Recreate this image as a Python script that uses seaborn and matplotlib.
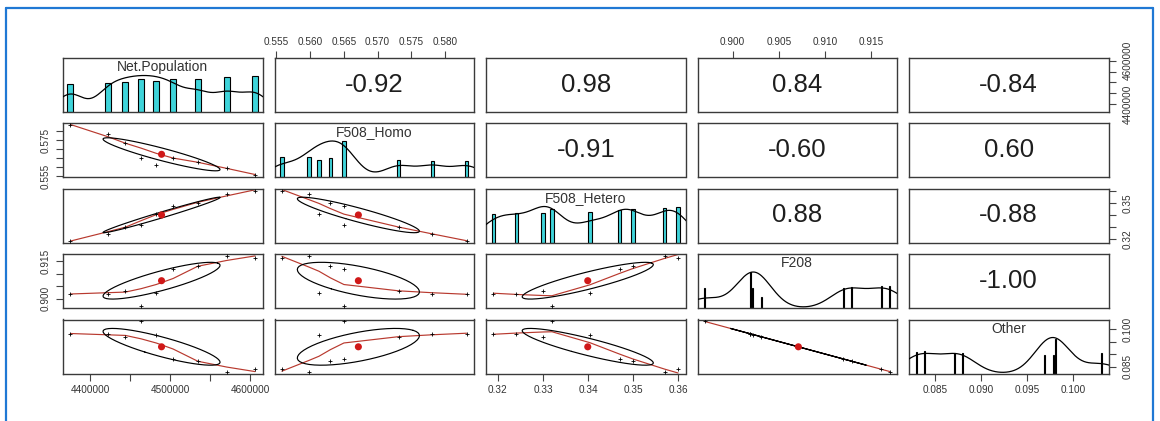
import numpy as np
import pandas as pd
import matplotlib
matplotlib.use("Agg")
import matplotlib.pyplot as plt
from matplotlib.lines import Line2D
import seaborn as sns

# ---- data -------------------------------------------------------------
var_names = ["Net.Population", "F508_Homo", "F508_Hetero", "F208", "Other"]
net_population = [4375000, 4421750, 4443750, 4463400, 4482500, 4503400, 4534250, 4570500, 4605900]
f508_homo = [0.5832, 0.5781, 0.5731, 0.5650, 0.5613, 0.5650, 0.5630, 0.5598, 0.5558]
f508_hetero = [0.3190, 0.3241, 0.3300, 0.3320, 0.3404, 0.3470, 0.3500, 0.3570, 0.3600]
f208 = [0.9019, 0.9019, 0.9031, 0.8970, 0.9022, 0.9120, 0.9129, 0.9170, 0.9161]
other = [0.0981, 0.0981, 0.0969, 0.1030, 0.0978, 0.0880, 0.0871, 0.0830, 0.0839]

# correlations printed in the upper triangle (row-major, i < j)
cor_upper = ["-0.92", "0.98", "0.84", "-0.84",
             "-0.91", "-0.60", "0.60",
             "0.88", "-0.88",
             "-1.00"]

# histogram bar heights on the diagonal (one per distinct value, ascending)
bar_heights = {
    "Net.Population": [0.77, 0.80, 0.83, 0.89, 0.86, 0.91, 0.91, 0.97, 1.00],
    "F508_Homo": [0.56, 0.55, 0.47, 0.53, 1.00, 0.47, 0.45, 0.44],
    "F508_Hetero": [0.78, 0.81, 0.83, 0.94, 0.86, 0.90, 0.92, 0.97, 1.00],
    "F208": [0.55, 1.00, 0.55, 0.30, 0.55, 0.58, 0.62, 0.62],
    "Other": [0.60, 0.62, 0.57, 0.57, 0.51, 0.51, 0.97, 0.56],
}

# axis ticks: (positions, labels drawn)
ticks = {
    "Net.Population": ([4400000, 4450000, 4500000, 4550000, 4600000],
                       ["4400000", "", "4500000", "", "4600000"]),
    "F508_Homo": ([0.555, 0.560, 0.565, 0.570, 0.575, 0.580],
                  ["0.555", "0.560", "0.565", "0.570", "0.575", "0.580"]),
    "F508_Hetero": ([0.32, 0.33, 0.34, 0.35, 0.36],
                    ["0.32", "0.33", "0.34", "0.35", "0.36"]),
    "F208": ([0.900, 0.905, 0.910, 0.915], ["0.900", "0.905", "0.910", "0.915"]),
    "Other": ([0.085, 0.090, 0.095, 0.100], ["0.085", "0.090", "0.095", "0.100"]),
}
side_labels = {  # labels shown on the vertical axes
    "Net.Population": ["4400000", "", "", "", "4600000"],
    "F508_Homo": ["0.555", "", "", "", "0.575", ""],
    "F508_Hetero": ["0.32", "", "", "0.35", ""],
    "F208": ["0.900", "", "", "0.915"],
    "Other": ["0.085", "", "", "0.100"],
}

df = pd.DataFrame({
    "Net.Population": net_population,
    "F508_Homo": f508_homo,
    "F508_Hetero": f508_hetero,
    "F208": f208,
    "Other": other,
})

# ---- style ------------------------------------------------------------
sns.set_theme(style="white")
plt.rcParams["font.family"] = ["Liberation Sans", "DejaVu Sans"]

W, H = 1160, 421
fig = plt.figure(figsize=(W / 100, H / 100), dpi=100)
fig.patch.set_facecolor("white")

col_left = [63 + 211.5 * k for k in range(5)]
row_top = [57.5 + 65.5 * k for k in range(5)]
pw, ph = 199.5, 54.0

BOX = "#3a3a3a"
TXT = "#333333"
SMOOTH = "#b8392e"
HIST = "#3fd4da"


def lims(v):
    lo, hi = float(np.min(v)), float(np.max(v))
    d = hi - lo
    return lo - 0.04 * d, hi + 0.04 * d


def r_lowess(x, y, f=2 / 3, iters=3):
    order = np.argsort(x, kind="stable")
    x = np.asarray(x, float)[order]
    y = np.asarray(y, float)[order]
    n = len(x)
    ns = max(min(int(round(f * n)), n), 2)
    rw = np.ones(n)
    fit = np.zeros(n)
    for it in range(iters + 1):
        for i in range(n):
            d = np.abs(x - x[i])
            h = np.sort(d)[ns - 1]
            if h > 0:
                r = d / h
                w = np.where(d <= 0.999 * h, (1 - np.clip(r, 0, 1) ** 3) ** 3, 0.0)
                w = np.where(d <= 0.001 * h, 1.0, w)
            else:
                w = (d == 0).astype(float)
            w = w * rw
            if w.sum() <= 0:
                fit[i] = y[i]
                continue
            w = w / w.sum()
            a = np.sum(w * x)
            b = np.sum(w * (x - a) ** 2)
            if np.sqrt(b) > 0.001 * (x[-1] - x[0]):
                slope = np.sum(w * (x - a) * y) / b
                fit[i] = np.sum(w * y) + slope * (x[i] - a)
            else:
                fit[i] = np.sum(w * y)
        if it == iters:
            break
        res = y - fit
        cmad = 6 * np.median(np.abs(res))
        if cmad < 1e-7 * np.mean(np.abs(y)):
            break
        u = np.abs(res) / cmad
        rw = np.where(u < 1, (1 - u ** 2) ** 2, 0.0)
    return x, fit


def ellipse_xy(xm, ym, xs, ys, r, segments=51):
    ang = np.arange(segments + 1) * 2 * np.pi / segments
    circ = np.column_stack([np.cos(ang), np.sin(ang)])
    t = np.sign(r) / np.sqrt(2) if abs(r) > 0 else 1 / np.sqrt(2)
    shape = np.diag([np.sqrt(1 + r), np.sqrt(max(1 - r, 0))]) @ np.array([[t, t], [-t, t]])
    e = circ @ shape
    return e[:, 0] * xs + xm, e[:, 1] * ys + ym


def nrd0(x):
    x = np.asarray(x, float)
    sd = np.std(x, ddof=1)
    iqr = np.subtract(*np.percentile(x, [75, 25]))
    lo = min(sd, iqr / 1.34)
    return 0.9 * lo * len(x) ** -0.2


def style_box(ax):
    for s in ax.spines.values():
        s.set_visible(True)
        s.set_color(BOX)
        s.set_linewidth(1.0)
    ax.set_xticks([])
    ax.set_yticks([])
    ax.set_xlabel("")
    ax.set_ylabel("")
    ax.set_facecolor("white")


n = len(var_names)
axes = {}
cor_iter = iter(cor_upper)
for i in range(n):
    for j in range(n):
        left = col_left[j]
        top = row_top[i]
        ax = fig.add_axes([left / W, 1 - (top + ph) / H, pw / W, ph / H])
        axes[(i, j)] = ax
        xv = var_names[j]
        yv = var_names[i]
        xl = lims(df[xv])
        if i == j:
            vals = np.sort(df[xv].unique())
            ib = np.min(np.diff(vals)) * (len(vals) - 1) / 41
            ax.bar(vals, bar_heights[xv], width=2 * ib, color=HIST,
                   edgecolor="black", linewidth=0.8, align="center", zorder=2)
            bw = nrd0(df[xv]) * 0.42
            gx = np.linspace(df[xv].min() - 3 * bw, df[xv].max() + 3 * bw, 512)
            dens = np.exp(-0.5 * ((gx[:, None] - df[xv].values[None, :]) / bw) ** 2).sum(axis=1)
            dens = dens / dens.max()
            sns.lineplot(x=gx, y=dens, ax=ax, color="black", linewidth=0.9,
                         sort=False, estimator=None, zorder=3)
            ax.text(0.5, 0.83, xv, transform=ax.transAxes, ha="center", va="center",
                    fontsize=10, color=TXT)
            ax.set_xlim(*xl)
            ax.set_ylim(0, 1.5)
        elif i < j:
            ax.text(0.5, 0.5, next(cor_iter), transform=ax.transAxes, ha="center",
                    va="center", fontsize=18.5, color="#1e1e1e")
            ax.set_xlim(*xl)
            ax.set_ylim(*lims(df[yv]))
        else:
            x = df[xv].values
            y = df[yv].values
            sns.scatterplot(x=x, y=y, ax=ax, marker="+", s=8, color="black",
                            linewidth=0.6, zorder=3)
            lx, ly = r_lowess(x, y)
            sns.lineplot(x=lx, y=ly, ax=ax, color=SMOOTH, linewidth=0.85,
                         sort=False, estimator=None, zorder=2)
            r = np.corrcoef(x, y)[0, 1]
            ex, ey = ellipse_xy(x.mean(), y.mean(), x.std(ddof=1), y.std(ddof=1), r)
            sns.lineplot(x=ex, y=ey, ax=ax, color="black", linewidth=0.85,
                         sort=False, estimator=None, zorder=2)
            sns.scatterplot(x=[x.mean()], y=[y.mean()], ax=ax, s=26, color="#d01818",
                            edgecolor="none", zorder=4)
            ax.set_xlim(*xl)
            ax.set_ylim(*lims(df[yv]))
        style_box(ax)
        if ax.get_legend() is not None:
            ax.get_legend().remove()

tick_kw = dict(direction="out", length=4.7, width=0.8, color="#444444",
               labelsize=7.2, labelcolor=TXT)

# horizontal axes: top on even columns, bottom on odd columns
for j in range(n):
    v = var_names[j]
    pos, labs = ticks[v]
    if j % 2 == 1:
        ax = axes[(0, j)]
        ax.xaxis.tick_top()
        ax.set_xticks(pos)
        ax.set_xticklabels(labs)
        ax.tick_params(axis="x", top=True, bottom=False, pad=3.0, **tick_kw)
    else:
        ax = axes[(n - 1, j)]
        ax.set_xticks(pos)
        ax.set_xticklabels(labs)
        ax.tick_params(axis="x", bottom=True, top=False, pad=3.4, **tick_kw)


def rotate_y(ax):
    for t in ax.get_yticklabels():
        t.set_rotation(90)
        t.set_va("center")


# vertical axes: left on even rows, right on odd rows
for i in range(n):
    v = var_names[i]
    pos, _ = ticks[v]
    labs = side_labels[v]
    if i % 2 == 1:
        ax = axes[(i, 0)]
        ax.set_yticks(pos)
        ax.set_yticklabels(labs)
        ax.tick_params(axis="y", left=True, right=False, pad=4.3, **tick_kw)
        rotate_y(ax)
    else:
        ax = axes[(i, n - 1)]
        if i == n - 1:
            # the diagonal panel is in histogram units; put the variable scale on a twin
            tw = ax.twinx()
            tw.set_ylim(*lims(df[v]))
            for s in tw.spines.values():
                s.set_visible(False)
            tw.grid(False)
            ax = tw
        ax.yaxis.tick_right()
        ax.set_yticks(pos)
        ax.set_yticklabels(labs)
        ax.tick_params(axis="y", right=True, left=False, pad=5.5, **tick_kw)
        rotate_y(ax)

# blue frame around the figure
frame = "#1f78d4"
fig.add_artist(Line2D([6.3 / W, 1153 / W], [1 - 8.3 / H, 1 - 8.3 / H],
                      transform=fig.transFigure, color=frame, linewidth=1.6))
fig.add_artist(Line2D([6.3 / W, 6.3 / W], [1 - 8.3 / H, 0],
                      transform=fig.transFigure, color=frame, linewidth=1.6))
fig.add_artist(Line2D([1153 / W, 1153 / W], [1 - 8.3 / H, 0],
                      transform=fig.transFigure, color=frame, linewidth=1.6))

fig.savefig("out.png", dpi=100, facecolor="white")
